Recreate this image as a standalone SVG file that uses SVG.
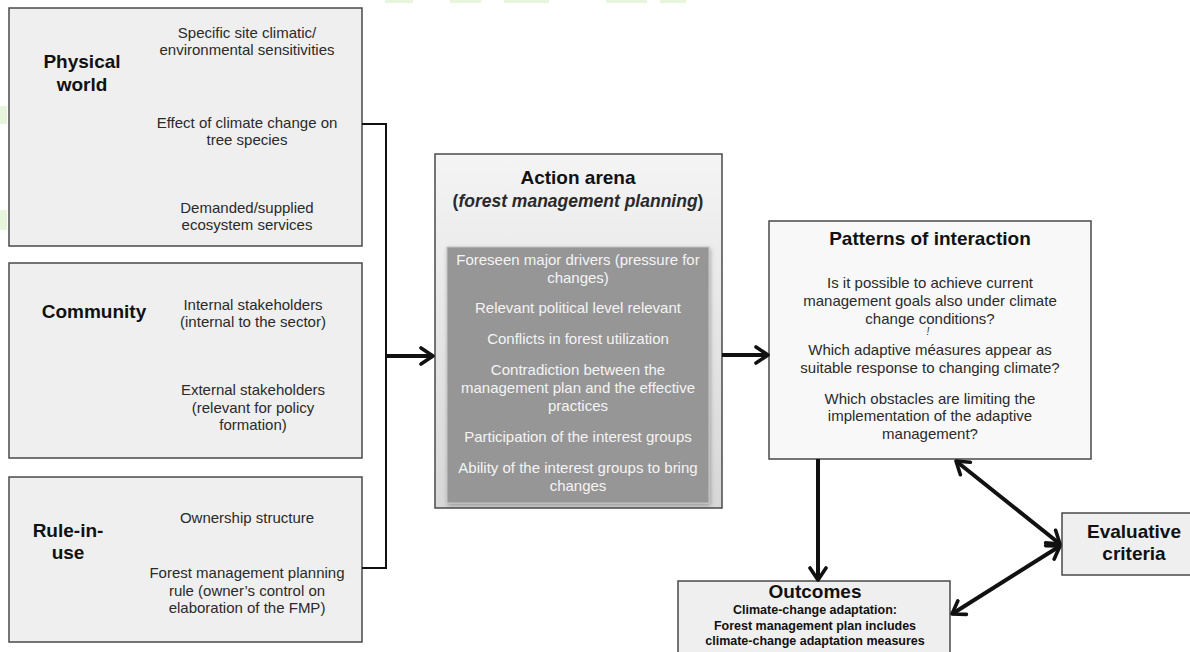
<svg xmlns="http://www.w3.org/2000/svg" width="1190" height="652" viewBox="0 0 1190 652">
<style>
.box{fill:#efefef;stroke:#4a4a4a;stroke-width:1.5}
.t{font-family:"Liberation Sans",Arial,sans-serif;fill:#2a2a2a;text-anchor:middle}
.s{font-size:15px}
.h{font-size:19px;font-weight:bold;fill:#111}
.w{font-size:15px;fill:#f4f4f4}
.o{font-size:12.5px;font-weight:bold;fill:#111}
.con{stroke:#111;stroke-width:4;fill:none}
.br{stroke:#111;stroke-width:2;fill:none}
.wm{fill:#e6f5dc}
</style>
<defs>
<marker id="ah" viewBox="0 0 16 20" refX="14" refY="10" markerWidth="16" markerHeight="20" orient="auto-start-reverse" markerUnits="userSpaceOnUse">
<path d="M2,2 L14,10 L2,18" fill="none" stroke="#111" stroke-width="3.6" stroke-linecap="round" stroke-linejoin="round"/>
</marker>
<linearGradient id="ag" x1="0" y1="0" x2="0" y2="1">
<stop offset="0" stop-color="#f4f4f4"/>
<stop offset="1" stop-color="#d7d7d7"/>
</linearGradient>
<filter id="sh" x="-5%" y="-5%" width="110%" height="110%">
<feDropShadow dx="1" dy="2" stdDeviation="2" flood-color="#000" flood-opacity="0.3"/>
</filter>
</defs>
<rect width="1190" height="652" fill="#ffffff"/>

<g id="watermark">
<rect class="wm" x="385" y="0" width="28" height="3"/>
<rect class="wm" x="450" y="0" width="31" height="3"/>
<rect class="wm" x="504" y="0" width="45" height="3"/>
<rect class="wm" x="606" y="0" width="41" height="3"/>
<rect class="wm" x="660" y="0" width="26" height="3"/>
<rect class="wm" x="0" y="106" width="7" height="18"/>
<rect class="wm" x="0" y="210" width="7" height="20"/>
</g>

<g id="physical-world">
<rect class="box" x="9" y="8" width="353" height="238"/>
<text class="t h" x="82" y="68">Physical</text>
<text class="t h" x="82" y="91">world</text>
<text class="t s" x="247" y="38">Specific site climatic/</text>
<text class="t s" x="247" y="55">environmental sensitivities</text>
<text class="t s" x="247" y="128">Effect of climate change on</text>
<text class="t s" x="247" y="145">tree species</text>
<text class="t s" x="247" y="213">Demanded/supplied</text>
<text class="t s" x="247" y="230">ecosystem services</text>
</g>

<g id="community">
<rect class="box" x="9" y="263" width="353" height="195"/>
<text class="t h" x="94" y="318">Community</text>
<text class="t s" x="253" y="310">Internal stakeholders</text>
<text class="t s" x="253" y="327">(internal to the sector)</text>
<text class="t s" x="253" y="395">External stakeholders</text>
<text class="t s" x="253" y="413">(relevant for policy</text>
<text class="t s" x="253" y="430">formation)</text>
</g>

<g id="rule-in-use">
<rect class="box" x="9" y="477" width="353" height="165"/>
<text class="t h" x="68" y="537">Rule-in-</text>
<text class="t h" x="68" y="559">use</text>
<text class="t s" x="247" y="523">Ownership structure</text>
<text class="t s" x="247" y="578">Forest management planning</text>
<text class="t s" x="247" y="596">rule (owner’s control on</text>
<text class="t s" x="247" y="613">elaboration of the FMP)</text>
</g>

<g id="action-arena">
<rect x="435" y="154" width="287" height="354" fill="url(#ag)" stroke="#4a4a4a" stroke-width="1.5"/>
<text class="t h" x="578" y="184">Action arena</text>
<text class="t" font-size="17.5" font-weight="bold" fill="#111" x="578" y="207">(<tspan font-style="italic">forest management planning</tspan>)</text>
<rect x="447" y="247" width="262" height="256" fill="#969696" stroke="#c4c4c4" stroke-width="1" filter="url(#sh)"/>
<text class="t w" x="578" y="265">Foreseen major drivers (pressure for</text>
<text class="t w" x="578" y="283">changes)</text>
<text class="t w" x="578" y="313">Relevant political level relevant</text>
<text class="t w" x="578" y="344">Conflicts in forest utilization</text>
<text class="t w" x="578" y="375">Contradiction between the</text>
<text class="t w" x="578" y="393">management plan and the effective</text>
<text class="t w" x="578" y="411">practices</text>
<text class="t w" x="578" y="442">Participation of the interest groups</text>
<text class="t w" x="578" y="473">Ability of the interest groups to bring</text>
<text class="t w" x="578" y="491">changes</text>
</g>

<g id="patterns-of-interaction">
<rect x="769" y="221" width="322" height="238" fill="#f8f8f8" stroke="#4a4a4a" stroke-width="1.5"/>
<text class="t h" x="930" y="245">Patterns of interaction</text>
<text class="t s" x="930" y="288">Is it possible to achieve current</text>
<text class="t s" x="930" y="306">management goals also under climate</text>
<text class="t s" x="930" y="324">change conditions?</text>
<text class="t" font-size="10" font-style="italic" x="928" y="335">!</text>
<text class="t s" x="930" y="355">Which adaptive méasures appear as</text>
<text class="t s" x="930" y="373">suitable response to changing climate?</text>
<text class="t s" x="930" y="404">Which obstacles are limiting the</text>
<text class="t s" x="930" y="421">implementation of the adaptive</text>
<text class="t s" x="930" y="439">management?</text>
</g>

<g id="outcomes">
<rect class="box" x="678" y="581" width="272" height="80"/>
<text class="t h" x="815" y="598">Outcomes</text>
<text class="t o" x="815" y="614">Climate-change adaptation:</text>
<text class="t o" x="815" y="630">Forest management plan includes</text>
<text class="t o" x="815" y="645">climate-change adaptation measures</text>
</g>

<g id="evaluative-criteria">
<rect class="box" x="1062" y="513" width="142" height="62"/>
<text class="t h" x="1134" y="538">Evaluative</text>
<text class="t h" x="1134" y="560">criteria</text>
</g>

<g id="connectors">
<path class="br" d="M362,124 H386 V568 H362"/>
<line class="con" x1="386" y1="356" x2="433" y2="356" marker-end="url(#ah)"/>
<line class="con" x1="722" y1="355" x2="768" y2="355" marker-end="url(#ah)"/>
<line class="con" x1="818" y1="459" x2="818" y2="580" marker-end="url(#ah)"/>
<line class="con" x1="956" y1="461" x2="1060" y2="544" marker-start="url(#ah)" marker-end="url(#ah)"/>
<line class="con" x1="1060" y1="546" x2="952" y2="614" marker-start="url(#ah)" marker-end="url(#ah)"/>
</g>
</svg>
